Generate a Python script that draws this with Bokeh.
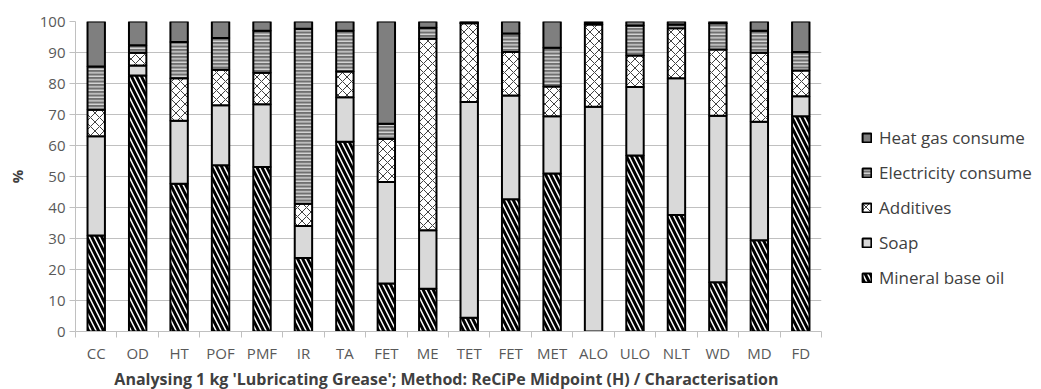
from bokeh.plotting import figure
from bokeh.models import ColumnDataSource, FixedTicker, Legend, LegendItem, Title, Range1d
from bokeh.embed import file_html
from bokeh.resources import INLINE

categories = ["CC", "OD", "HT", "POF", "PMF", "IR", "TA", "FET", "ME", "TET",
              "FET", "MET", "ALO", "ULO", "NLT", "WD", "MD", "FD"]
mineral = [31.0, 82.6, 47.7, 53.6, 53.1, 23.7, 61.2, 15.5, 13.8, 4.4,
           42.7, 51.0, 0.0, 56.8, 37.6, 15.9, 29.4, 69.4]
soap = [32.0, 3.2, 20.3, 19.4, 20.2, 10.3, 14.4, 32.7, 18.9, 69.6,
        33.4, 18.4, 72.5, 22.1, 44.1, 53.7, 38.3, 6.5]
additives = [8.5, 4.1, 13.7, 11.4, 10.2, 7.2, 8.3, 13.9, 61.7, 25.4,
             14.1, 9.6, 26.5, 10.1, 16.1, 21.4, 22.2, 8.3]
electricity = [14.0, 2.4, 11.7, 10.3, 13.5, 56.5, 13.1, 4.9, 3.6, 0.3,
               5.9, 12.5, 0.5, 9.7, 1.2, 8.4, 7.1, 6.0]
heat_gas = [14.5, 7.7, 6.6, 5.3, 3.0, 2.3, 3.0, 33.0, 2.0, 0.3,
            3.9, 8.5, 0.5, 1.3, 1.0, 0.6, 3.0, 9.8]
series_names = ["Mineral base oil", "Soap", "Additives", "Electricity consume", "Heat gas consume"]
y_ticks = [0, 10, 20, 30, 40, 50, 60, 70, 80, 90, 100]

xs = list(range(1, len(categories) + 1))
src = ColumnDataSource(dict(x=xs, mineral=mineral, soap=soap, additives=additives,
                            electricity=electricity, heat=heat_gas))

FONT = "Open Sans"
p = figure(frame_width=746, frame_height=310, min_border_left=75, min_border_top=21,
           min_border_right=204, min_border_bottom=30,
           x_range=Range1d(0.5, len(categories) + 0.5), y_range=Range1d(0, 100),
           output_backend="svg", toolbar_location=None, outline_line_color=None)

renderers = p.vbar_stack(
    ["mineral", "soap", "additives", "electricity", "heat"], x="x", width=0.42, source=src,
    fill_color=["white", "#d9d9d9", "white", "#707070", "#7f7f7f"],
    hatch_pattern=["\\", " ", "x", "-", " "],
    hatch_color=["black", "black", "#404040", "white", "black"],
    hatch_weight=[3, 1, 1, 1, 1],
    hatch_scale=[10, 8, 9, 3.5, 8],
    line_color="black", line_width=2)

legend = Legend(items=[LegendItem(label=n, renderers=[r]) for n, r in
                       reversed(list(zip(series_names, renderers)))],
                location=(40, 42), glyph_width=11, glyph_height=11, label_height=20,
                spacing=12, padding=0, margin=0, border_line_color=None,
                background_fill_alpha=0, label_standoff=7,
                label_text_font=FONT, label_text_font_size="17px", label_text_color="#404040")
p.add_layout(legend, "right")

p.xgrid.grid_line_color = None
p.ygrid.grid_line_color = "#c0c0c0"
p.ygrid.ticker = FixedTicker(ticks=y_ticks)

p.yaxis.ticker = FixedTicker(ticks=y_ticks)
p.yaxis.axis_line_color = "#c0c0c0"
p.yaxis.major_tick_line_color = "#c0c0c0"
p.yaxis.major_tick_out = 6
p.yaxis.major_tick_in = 0
p.yaxis.minor_tick_line_color = None
p.yaxis.major_label_text_font = FONT
p.yaxis.major_label_text_font_size = "15px"
p.yaxis.major_label_text_color = "#595959"
p.yaxis.major_label_standoff = 4
p.yaxis.axis_label = "%"
p.yaxis.axis_label_text_font = FONT
p.yaxis.axis_label_text_font_style = "bold"
p.yaxis.axis_label_text_font_size = "15px"
p.yaxis.axis_label_text_color = "#404040"
p.yaxis.axis_label_standoff = 10

boundaries = [i + 0.5 for i in range(0, len(categories) + 1)]
p.xaxis.ticker = FixedTicker(ticks=xs, minor_ticks=boundaries)
p.xaxis.major_label_overrides = {x: c for x, c in zip(xs, categories)}
p.xaxis.axis_line_color = "#c0c0c0"
p.xaxis.major_tick_line_color = None
p.xaxis.minor_tick_line_color = "#c0c0c0"
p.xaxis.minor_tick_out = 6
p.xaxis.minor_tick_in = 0
p.xaxis.major_label_text_font = FONT
p.xaxis.major_label_text_font_size = "15px"
p.xaxis.major_label_text_color = "#595959"
p.xaxis.major_label_standoff = 5

title = Title(text="Analysing 1 kg 'Lubricating Grease';  Method: ReCiPe Midpoint (H) / Characterisation",
              align="center", text_font=FONT, text_font_style="bold",
              text_font_size="16px", text_color="#404040", standoff=0)
p.add_layout(title, "below")

open("out.html", "w").write(file_html(p, INLINE))
